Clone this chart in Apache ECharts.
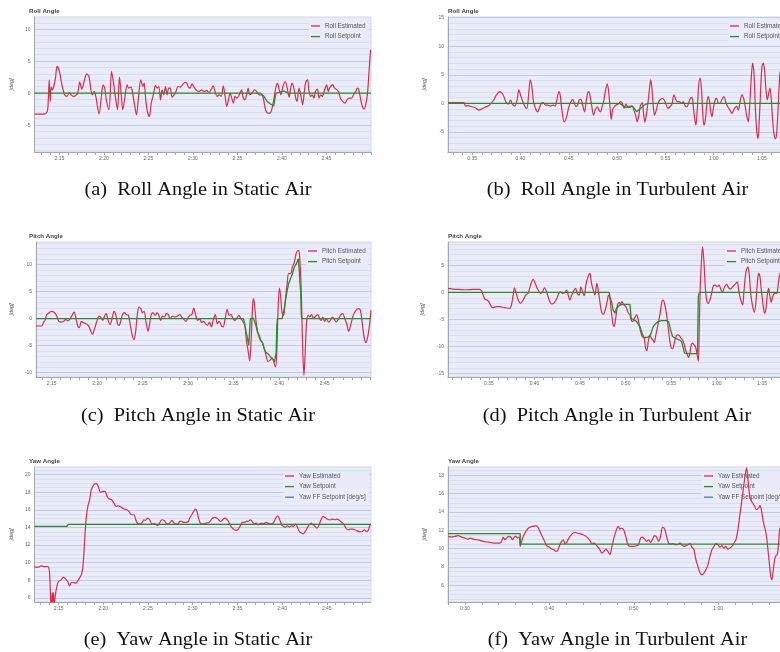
<!DOCTYPE html>
<html>
<head>
<meta charset="utf-8">
<script src="https://cdn.jsdelivr.net/npm/echarts@6/dist/echarts.min.js"></script>
<style>
html, body { margin: 0; padding: 0; background: #fff; }
#page { position: relative; width: 780px; height: 652px; overflow: hidden; background: #fff; }
.panel { position: absolute; height: 225px; }
.left { left: 0; width: 396px; }
.right { left: 400px; width: 435px; }
</style>
</head>
<body>
<div id="page">
  <div class="panel left" id="pa" style="top:0"></div>
  <div class="panel right" id="pb" style="top:0"></div>
  <div class="panel left" id="pc" style="top:225px"></div>
  <div class="panel right" id="pd" style="top:225px"></div>
  <div class="panel left" id="pe" style="top:450px"></div>
  <div class="panel right" id="pf" style="top:450px"></div>
</div>
<script>
// ---- (a) roll, static air (time in seconds) ----
var rollStaticTime = [132.23,133.27,133.64,133.75,133.86,133.97,134.08,134.19,134.37,134.56,
  134.74,135.0,135.29,135.59,135.85,136.11,136.29,136.59,136.84,137.06,
  137.29,137.51,137.73,138.06,138.32,138.54,138.72,138.91,139.09,139.46,
  139.72,139.90,140.09,140.27,140.57,140.86,141.08,141.31,141.53,141.75,
  141.93,142.12,142.37,142.60,142.78,143.04,143.26,143.41,143.66,143.89,
  144.14,144.37,144.51,144.70,144.88,145.10,145.32,145.55,145.80,145.99,
  146.17,146.36,146.54,146.73,146.91,147.09,147.28,147.46,147.65,147.87,
  148.09,148.31,148.57,148.83,149.12,149.31,149.49,149.67,149.90,150.12,
  150.41,150.71,150.97,151.26,151.52,151.81,152.03,152.26,152.48,152.70,
  152.92,153.18,153.40,153.62,153.80,153.99,154.17,154.36,154.54,154.73,
  154.95,155.21,155.47,155.61,155.83,156.05,156.20,156.39,156.68,156.90,
  157.16,157.42,157.68,157.90,158.16,158.41,158.67,158.89,159.08,159.26,
  159.48,159.70,159.89,160.11,160.37,160.59,160.81,160.96,161.14,161.36,
  161.55,161.69,161.92,162.14,162.32,162.51,162.69,162.88,163.02,163.21,
  163.39,163.58,163.76,163.98,164.17,164.35,164.53,164.79,165.01,165.20,
  165.34,165.53,165.71,165.90,166.08,166.34,166.56,166.82,167.08,167.30,
  167.56,167.82,168.04,168.29,168.48,168.63,168.85,169.03,169.22,169.40,
  169.59,169.77,169.95];
var rollStaticEst = [-3.28,-3.28,-2.86,-1.04,2.08,-1.30,0.94,0.52,1.04,2.34,
  4.17,3.39,1.30,-0.26,-0.52,0.10,-0.26,-0.52,-0.36,0,
  1.77,0.63,1.56,3.02,2.60,0.52,-0.26,0.26,-0.52,-3.23,
  -0.52,1.30,0.78,-1.04,-2.60,3.39,1.56,-0.78,-2.60,2.50,
  0,-2.60,-0.52,1.30,0.78,0.94,-0.26,-1.56,-3.39,-0.52,
  2.08,1.04,1.56,-1.04,-2.86,-3.65,-1.56,-0.26,1.20,0.78,
  1.04,-1.04,0.52,-0.26,1.04,-0.26,0.78,0.78,-0.63,-0.26,
  0.26,1.04,0.94,1.30,1.67,1.56,0.94,0.78,1.46,0.94,
  0.42,0.26,0.52,0.26,0.42,0.10,0.52,1.15,0.26,-0.52,
  -0.26,-0.52,1.15,-0.52,-2.08,-1.04,0,-0.78,-1.56,-0.52,
  -0.78,-0.26,0.52,-0.52,-1.04,-0.16,0.78,-0.26,0.10,0.52,
  0.26,-0.26,-0.26,-0.78,-2.60,-3.13,-3.13,-2.34,-1.04,0.52,
  1.56,0.52,-0.26,1.04,1.82,0.78,-0.63,0.63,1.56,0.63,
  -0.78,-1.30,0.78,-0.52,-1.82,0.26,1.82,2.08,0.52,-0.52,
  -0.26,-0.78,0.26,0.63,-0.78,-0.26,-0.52,0.52,1.30,0.26,
  0.78,1.15,1.30,0.78,0.63,0.26,-0.78,-1.30,-1.56,-1.04,
  -0.78,-0.78,-0.26,0.26,0.78,0.52,-1.04,-2.08,-2.50,-1.82,
  -0.26,3.13,6.77];
var rollStaticSpTime = [132.2,157.6,157.97,158.34,158.71,159.08,159.19,159.34,160.2,160.4,160.7,170.0];
var rollStaticSp = [0,0,-0.5,-1.3,-1.7,-2.0,-1.0,0,0.3,0.4,0,0];

// ---- (b) roll, turbulent air ----
var rollTurbTime = [32.51,34.14,34.31,34.59,34.93,35.28,35.52,35.69,35.97,36.31,
  36.66,36.90,37.17,37.52,37.87,38.21,38.49,38.73,38.97,39.18,
  39.42,39.66,39.83,40.01,40.18,40.35,40.52,40.66,40.83,41.01,
  41.18,41.35,41.56,41.77,41.94,42.15,42.35,42.59,42.87,43.11,
  43.39,43.60,43.77,43.98,44.11,44.29,44.53,44.77,45.01,45.22,
  45.39,45.53,45.74,45.91,46.08,46.25,46.43,46.63,46.77,46.94,
  47.08,47.22,47.39,47.57,47.74,47.95,48.12,48.29,48.46,48.64,
  48.81,48.98,49.15,49.29,49.40,49.53,49.71,49.88,50.12,50.36,
  50.54,50.74,50.91,51.12,51.33,51.57,51.74,51.92,52.09,52.26,
  52.40,52.61,52.74,52.88,53.05,53.23,53.37,53.47,53.61,53.75,
  53.88,54.06,54.23,54.44,54.68,54.88,55.06,55.26,55.47,55.68,
  55.89,56.09,56.27,56.44,56.65,56.85,57.06,57.23,57.40,57.58,
  57.75,57.89,58.03,58.16,58.30,58.44,58.58,58.72,58.85,58.99,
  59.13,59.27,59.41,59.55,59.68,59.82,59.99,60.17,60.30,60.48,
  60.65,60.86,61.06,61.24,61.41,61.69,61.89,62.07,62.24,62.38,
  62.55,62.76,62.93,63.10,63.24,63.41,63.58,63.76,63.90,64.03,
  64.17,64.31,64.45,64.59,64.72,64.86,65.00,65.14,65.28,65.41,
  65.55,65.69,65.83,65.97,66.10,66.24,66.38,66.52,66.66,66.79,
  66.93,67.21,67.55];
var rollTurbEst = [0.12,0.12,-0.47,-0.41,-0.59,-0.71,-1.0,-1.18,-1.0,-0.71,
  -0.47,-0.12,0.41,1.47,2.06,1.47,0.29,-0.12,0.59,-0.18,
  -0.47,0.71,2.35,1.47,0.59,-0.12,-0.71,-0.88,1.18,4.12,
  2.94,0.29,-0.88,-1.47,-0.88,0,0.12,-0.29,-0.29,-0.47,
  -0.29,-0.47,0.59,2.06,1.47,-1.18,-3.24,-2.35,-0.59,0.29,
  0.71,0.29,-0.59,-0.29,0.59,0.71,-0.29,-1.47,0,1.76,
  2.06,1.18,-0.59,-2.06,-1.18,-0.59,-1.18,-1.47,-0.47,0.59,
  2.35,3.41,1.76,-1.18,-2.82,-1.18,-0.59,-0.29,-0.12,0.29,
  0,-0.88,-0.12,-0.59,-0.47,-0.47,-1.18,-2.06,-3.24,-2.06,
  -0.47,0.12,-1.76,-3.29,-1.76,0.59,2.82,4.12,2.65,-0.59,
  -2.06,-1.18,0,0.59,0.88,0.59,-0.12,-0.88,-0.59,-0.12,
  1.47,0.59,0.29,0.29,0,0.29,-0.47,-0.59,0,0.88,
  1.06,-0.59,-2.65,-3.82,-1.18,2.94,4.41,2.94,-1.18,-3.82,
  -2.94,-0.59,1.18,0.59,-1.18,-2.35,-0.59,0.71,0.88,0,
  0,0.71,1.18,0.29,-0.47,-1.18,-1.76,-1.18,-0.71,-0.47,
  -1.18,0.59,1.47,0.88,-0.29,-2.06,-3.24,0.59,4.71,7.06,
  5.29,-0.59,-4.71,-6.18,-2.94,2.35,6.47,7.06,5.59,2.35,
  0.59,1.76,2.65,0.59,-2.94,-5.29,-6.18,-5.29,-1.18,3.53,
  5.88,6.47,1.76];
var rollTurbSpTime = [32.5,50.29,50.64,50.98,51.33,51.57,51.78,52.02,52.19,52.43,52.71,52.99,53.23,67.9];
var rollTurbSp = [0,0,-0.47,-0.7,-0.7,-0.47,-0.88,-1.47,-1.18,-0.88,-0.47,-0.12,0,0];

// ---- (c) pitch, static air ----
var pitchStaticTime = [133.27,133.92,134.10,134.28,134.46,134.74,134.99,135.24,135.53,135.79,
  136.07,136.33,136.54,136.79,137.04,137.26,137.47,137.69,137.87,138.05,
  138.27,138.48,138.77,139.02,139.23,139.49,139.70,139.95,140.21,140.38,
  140.64,140.82,141.00,141.21,141.43,141.64,141.86,142.07,142.25,142.43,
  142.61,142.79,143.01,143.22,143.44,143.65,143.87,144.05,144.23,144.41,
  144.59,144.80,144.98,145.16,145.38,145.59,145.77,145.95,146.13,146.38,
  146.60,146.78,146.99,147.17,147.39,147.60,147.82,148.03,148.28,148.54,
  148.83,149.08,149.29,149.54,149.76,149.97,150.19,150.41,150.62,150.84,
  151.05,151.27,151.48,151.70,151.91,152.13,152.35,152.56,152.78,152.99,
  153.21,153.42,153.64,153.85,154.07,154.29,154.50,154.72,154.93,155.15,
  155.36,155.58,155.80,156.01,156.23,156.41,156.59,156.77,156.95,157.09,
  157.20,157.34,157.52,157.74,157.95,158.17,158.38,158.60,158.78,158.99,
  159.25,159.50,159.61,159.75,159.89,160.04,160.18,160.32,160.50,160.68,
  160.89,161.04,161.25,161.47,161.68,161.90,162.12,162.26,162.44,162.58,
  162.73,162.87,163.02,163.20,163.38,163.56,163.81,164.02,164.27,164.45,
  164.63,164.81,164.99,165.20,165.42,165.64,165.85,166.07,166.28,166.50,
  166.79,167.00,167.22,167.43,167.65,167.86,168.15,168.44,168.73,168.94,
  169.12,169.37,169.55,169.77,169.95,170.09];
var pitchStaticEst = [-1.36,-1.36,-0.74,-0.31,0.74,1.11,1.36,1.23,0.62,-0.49,
  -0.62,-0.49,-0.12,-0.43,0,0.62,1.23,0,-1.36,-1.67,
  -0.49,-0.74,-0.93,-1.23,-1.98,-2.90,-1.98,-0.62,0.49,0.31,
  -0.31,0.49,0.93,-0.31,-1.11,0,1.36,0.62,-0.93,-1.23,
  -0.31,0.74,1.11,0.74,0.62,-1.23,-3.09,-3.89,-2.47,0.62,
  2.16,1.85,1.11,1.36,-0.62,-2.35,-0.93,0.74,1.11,0.62,
  1.11,0.62,-0.31,0.49,0.31,0.93,0.74,0,0.49,0.31,
  0.49,0.74,0.31,-0.12,-0.49,0.12,0.62,0.74,1.98,0.62,
  -0.31,0,-0.74,-0.49,-0.93,-1.23,-0.62,-1.54,-0.12,0.74,
  -0.93,-0.49,-1.23,-1.54,0,1.73,0.62,0.74,0,-0.31,
  0.12,0.62,0,-0.49,-1.23,-4.01,-5.86,-7.84,-3.09,2.47,
  3.70,1.85,-1.23,-3.09,-4.01,-4.44,-5.56,-7.10,-7.90,-7.72,
  -7.28,-8.52,-8.95,-6.17,1.85,5.68,4.01,1.11,0.62,3.40,
  6.48,8.33,8.33,9.57,10.49,12.22,12.65,11.42,4.94,-4.94,
  -10.49,-6.17,-0.62,0.62,0.31,0.74,0,0.49,0.74,0,
  -0.31,0.31,-0.49,0,-0.62,-0.31,0.31,-0.12,-0.62,-0.12,
  0.74,0.93,0,-0.93,-2.35,-1.23,0.62,1.54,1.85,1.54,
  -0.62,-3.70,-4.44,-3.09,-0.93,1.54];
var pitchStaticSpTime = [133.3,156.08,156.23,156.37,156.51,156.66,156.77,156.84,157.02,157.17,
  157.31,157.45,157.63,157.81,157.99,158.17,158.35,158.53,158.71,158.88,
  159.07,159.32,159.50,159.61,159.68,159.75,159.82,160.32,160.50,160.68,
  160.86,161.04,161.25,161.47,161.68,161.90,162.12,162.26,162.37,162.44,
  162.51,170.1];
var pitchStaticSp = [0,0,-0.93,-2.47,-3.40,-4.94,-4.94,0,0.12,0.12,
  0,-1.23,-2.47,-3.09,-4.01,-4.44,-5.56,-6.17,-6.48,-6.67,
  -7.10,-7.53,-8.02,-8.15,-6.17,-1.23,0,0,1.23,3.09,
  4.94,6.48,7.41,8.33,9.57,10.19,11.11,11.11,4.94,0.62,
  0,0];

// ---- (d) pitch, turbulent air ----
var pitchTurbTime = [30.51,31.06,31.79,32.53,33.26,33.99,34.18,34.36,34.54,34.80,
  35.02,35.27,35.46,35.82,36.19,36.74,37.29,37.47,37.66,37.80,
  37.95,38.21,38.46,38.75,39.05,39.30,39.56,39.85,40.15,40.40,
  40.66,40.88,41.10,41.32,41.61,41.87,42.12,42.42,42.67,42.86,
  43.08,43.30,43.52,43.70,43.88,44.07,44.25,44.51,44.69,44.91,
  45.09,45.27,45.46,45.64,45.82,46.08,46.26,46.45,46.63,46.85,
  47.00,47.18,47.36,47.55,47.77,47.99,48.13,48.28,48.46,48.64,
  48.75,48.94,49.12,49.30,49.45,49.60,49.82,50.04,50.26,50.48,
  50.62,50.77,50.99,51.21,51.36,51.50,51.65,51.83,52.05,52.20,
  52.34,52.49,52.67,52.82,53.00,53.15,53.33,53.55,53.77,53.99,
  54.14,54.32,54.51,54.69,54.87,55.02,55.16,55.31,55.46,55.68,
  55.90,56.08,56.26,56.45,56.59,56.78,56.92,57.07,57.22,57.36,
  57.51,57.66,57.80,57.99,58.10,58.21,58.35,58.46,58.61,58.79,
  58.94,59.08,59.27,59.45,59.63,59.85,60.07,60.29,60.48,60.66,
  60.88,61.10,61.32,61.54,61.76,62.01,62.27,62.42,62.56,62.71,
  62.86,63.00,63.22,63.44,63.59,63.74,63.96,64.14,64.32,64.47,
  64.62,64.76,64.95,65.13,65.27,65.42,65.57,65.71,65.86,66.01,
  66.15,66.37,66.59,66.78,66.96,67.25,67.69];
var pitchTurbEst = [0.74,0.62,0.55,0.49,0.55,0.55,0.31,-0.49,-1.23,-1.42,
  -1.85,-2.65,-2.83,-2.65,-2.65,-2.83,-2.95,-2.34,-0.49,0.86,
  0.12,-1.42,-2.03,-1.42,-0.49,-0.18,1.35,2.40,1.35,0.43,
  -0.18,0.12,0.86,0.12,-1.42,-2.15,-2.03,-1.23,-0.18,0.12,
  -0.18,-0.06,0.43,-0.49,-1.42,-0.62,0.12,0.74,-0.18,-0.49,
  1.05,0.12,-0.62,1.35,2.58,3.51,1.66,0.43,-0.49,1.66,
  0.43,-1.72,-3.57,-4.06,-3.26,-1.60,-0.49,-1.11,-3.88,-6.03,
  -6.34,-4.49,-2.34,-1.85,-2.22,-1.72,-2.34,-2.65,-3.69,-4.18,
  -5.11,-5.42,-4.80,-4.18,-4.80,-6.03,-7.26,-8.18,-8.49,-10.34,
  -10.83,-9.11,-7.88,-8.49,-8.80,-9.29,-7.88,-6.03,-4.18,-1.72,
  -1.42,-2.34,-4.18,-6.65,-9.11,-10.34,-10.46,-9.72,-8.62,-7.88,
  -8.0,-8.49,-8.80,-9.72,-10.65,-11.57,-12.06,-11.26,-9.72,-9.42,
  -9.72,-10.03,-10.95,-12.80,-6.03,1.35,6.28,8.43,5.66,0.12,
  -1.72,-2.03,-1.42,-0.18,1.17,1.35,1.05,1.35,0.43,0.12,
  1.05,1.48,0.86,0.62,1.05,1.48,1.97,0.43,-0.80,-1.72,
  -2.34,0.12,3.82,4.74,3.20,-0.18,-2.65,-3.69,-1.72,1.66,
  3.51,2.89,-0.18,-2.65,-3.88,-2.95,-0.49,0.74,-0.80,-1.85,
  -0.80,-0.18,-0.18,1.66,3.51,3.82,1.97];
var pitchTurbSpTime = [30.5,48.21,48.28,48.46,48.64,48.83,49.01,49.19,49.38,49.74,
  50.48,50.59,50.62,50.84,51.21,51.58,51.83,52.01,52.31,52.49,
  52.67,52.86,53.04,53.33,53.59,53.96,54.51,54.73,54.95,55.16,
  55.31,55.60,55.90,56.15,56.34,56.48,57.07,57.62,57.88,57.91,
  57.99,58.10,68.06];
var pitchTurbSp = [0,0,-0.8,-1.72,-3.26,-3.88,-2.95,-2.65,-2.34,-2.22,
  -2.22,-2.22,-4.92,-4.98,-5.42,-6.34,-7.57,-8.37,-8.37,-8.37,
  -8.18,-7.26,-6.34,-5.73,-5.42,-5.23,-5.23,-5.42,-6.95,-8.18,
  -8.49,-8.62,-8.80,-9.11,-10.34,-11.26,-11.38,-11.38,-11.38,-10.34,
  -0.8,0,0];

// ---- (e) yaw, static air ----
var yawStaticTime = [132.30,132.78,133.03,133.33,133.70,133.88,133.99,134.07,134.14,134.21,
  134.29,134.36,134.43,134.51,134.62,134.80,134.98,135.28,135.54,135.79,
  136.01,136.23,136.45,136.67,136.89,137.11,137.33,137.55,137.74,137.85,
  137.96,138.11,138.29,138.47,138.66,138.84,139.02,139.24,139.46,139.68,
  139.94,140.20,140.42,140.67,140.93,141.23,141.45,141.67,141.89,142.14,
  142.40,142.62,142.88,143.13,143.43,143.61,143.80,143.98,144.16,144.35,
  144.53,144.71,144.97,145.19,145.41,145.63,145.82,146.07,146.29,146.55,
  146.81,147.03,147.28,147.47,147.69,147.91,148.13,148.35,148.57,148.79,
  149.01,149.31,149.53,149.67,149.89,150.11,150.30,150.48,150.66,150.85,
  151.07,151.29,151.51,151.80,152.02,152.24,152.46,152.68,152.90,153.13,
  153.35,153.57,153.79,154.01,154.23,154.45,154.67,154.89,155.11,155.33,
  155.55,155.77,155.99,156.21,156.43,156.65,156.87,157.09,157.31,157.53,
  157.75,157.97,158.19,158.41,158.63,158.85,159.07,159.29,159.51,159.73,
  159.95,160.17,160.39,160.61,160.83,161.05,161.27,161.49,161.71,161.93,
  162.15,162.37,162.59,162.81,163.03,163.26,163.48,163.70,163.92,164.14,
  164.36,164.58,164.80,165.02,165.24,165.46,165.68,165.90,166.12,166.34,
  166.56,166.78,167.00,167.22,167.44,167.66,167.88,168.10,168.32,168.54,
  168.76,168.98,169.20,169.42,169.64,169.78,169.93];
var yawStaticEst = [9.50,9.50,9.65,9.57,9.57,9.50,8.82,6.92,5.03,5.60,
  6.62,5.03,6.62,5.03,6.17,7.30,7.87,8.06,8.36,8.14,
  7.87,7.38,7.76,7.76,7.68,7.87,8.25,8.63,9.76,11.47,
  13.36,15.25,16.46,17.14,18.28,18.65,18.92,18.96,18.58,17.97,
  18.09,18.09,17.52,17.22,17.14,16.69,16.38,16.46,16.38,16.19,
  16.08,16.01,15.82,15.44,15.44,14.95,14.49,14.42,14.42,14.57,
  14.87,14.79,15.06,14.87,14.42,14.42,14.42,14.19,14.49,14.87,
  14.79,14.49,14.42,14.57,14.79,14.49,14.42,14.42,14.68,14.68,
  14.57,14.57,14.68,15.06,15.44,15.82,16.08,15.82,15.06,14.49,
  14.42,14.42,14.49,14.57,14.79,15.06,15.14,15.06,14.87,14.68,
  14.87,15.06,14.95,14.68,14.19,13.92,13.74,13.66,13.81,14.19,
  14.57,14.57,14.68,14.68,14.87,14.68,14.42,14.49,14.30,14.42,
  14.49,14.42,14.57,14.49,14.42,14.42,14.57,15.06,15.32,14.87,
  14.30,14.11,14.04,14.19,14.04,14.19,14.11,14.42,14.04,13.55,
  13.36,13.28,13.55,13.92,14.30,14.49,14.30,14.11,13.92,14.30,
  14.87,15.25,15.14,14.95,14.87,14.87,14.95,14.87,14.95,14.87,
  14.68,14.49,14.19,13.81,13.74,13.81,13.81,13.74,13.66,13.55,
  13.51,13.55,13.74,13.55,13.66,14.11,14.42];
var yawStaticSpTime = [132.3,135.9,136.09,169.94];
var yawStaticSp = [14.11,14.11,14.34,14.34];

// ---- (f) yaw, turbulent air ----
var yawTurbTime = [28.03,28.42,28.82,29.21,29.61,30.0,30.39,30.67,30.99,31.38,
  31.78,32.17,32.57,32.96,33.36,33.75,34.15,34.34,34.54,34.74,
  34.93,35.21,35.45,35.65,35.84,36.04,36.24,36.44,36.55,36.67,
  36.83,37.07,37.30,37.54,37.78,38.09,38.41,38.65,38.88,39.12,
  39.36,39.67,39.99,40.26,40.54,40.78,40.98,41.17,41.45,41.65,
  41.84,42.04,42.24,42.44,42.63,42.83,43.07,43.30,43.62,43.94,
  44.25,44.57,44.80,45.04,45.28,45.52,45.75,45.99,46.23,46.46,
  46.70,46.94,47.17,47.41,47.65,47.88,48.16,48.36,48.59,48.83,
  49.07,49.31,49.54,49.94,50.33,50.57,50.81,51.04,51.28,51.52,
  51.75,51.99,52.23,52.46,52.70,52.94,53.17,53.41,53.65,53.88,
  54.12,54.36,54.67,54.91,55.15,55.46,55.70,55.94,56.17,56.41,
  56.65,56.88,57.12,57.36,57.60,57.83,58.07,58.31,58.54,58.78,
  59.02,59.25,59.49,59.73,59.96,60.20,60.44,60.67,60.91,61.15,
  61.39,61.62,61.86,62.10,62.33,62.57,62.81,63.04,63.20,63.36,
  63.52,63.68,63.83,64.07,64.31,64.54,64.78,64.94,65.10,65.33,
  65.57,65.73,65.89,66.05,66.20,66.36,66.52,66.68,66.83,66.99,
  67.15,67.31,67.70,68.29];
var yawTurbEst = [11.35,11.27,11.35,11.42,11.27,11.16,11.05,11.16,11.05,10.98,
  10.91,10.80,10.73,10.69,10.62,10.62,10.62,10.80,11.27,10.98,
  11.16,11.35,11.27,10.98,11.27,11.35,11.16,11.27,10.25,10.62,
  11.16,11.64,12.0,12.25,12.36,12.44,12.51,12.36,11.89,11.42,
  10.98,10.33,10.18,9.96,9.89,9.71,9.78,10.25,10.80,10.98,
  10.55,10.69,11.05,11.35,11.53,11.71,11.78,11.71,11.64,11.53,
  11.42,11.16,10.91,10.55,10.62,10.44,10.18,9.89,9.53,9.71,
  9.96,9.71,9.35,10.25,11.16,11.89,12.44,12.15,12.25,12.0,
  11.27,10.44,10.25,10.25,10.33,10.44,11.16,11.27,11.05,10.80,
  10.98,10.69,11.05,11.42,11.27,10.80,11.35,12.33,12.15,11.35,
  10.62,10.51,10.55,10.44,10.44,10.62,10.44,10.25,10.33,10.44,
  10.55,10.18,9.89,8.80,8.07,7.42,7.16,7.35,7.71,8.25,
  9.16,9.89,10.25,10.55,10.44,10.18,10.33,10.07,10.25,9.96,
  10.07,10.25,10.62,10.98,12.07,13.71,15.35,16.98,18.07,18.80,
  17.53,16.07,15.42,14.98,14.62,14.25,14.44,14.69,14.25,12.98,
  12.07,11.27,9.89,8.44,7.16,6.62,7.71,8.80,9.24,9.35,
  10.62,12.25,12.80,12.07];
var yawTurbSpTime = [28.0,36.55,36.56,68.5];
var yawTurbSp = [11.64,11.64,10.51,10.51];
var yawTurbFFTime = [];
var yawTurbFF = [];

// ---- axis labels ----
var staticXLabels = [135, 140, 145, 150, 155, 160, 165];
var turbXLabels = [35, 40, 45, 50, 55, 60, 65];
var yawTurbXLabels = [30, 40, 50, 60];
var rollStaticYLabels = [-5, 0, 5, 10];
var rollTurbYLabels = [-5, 0, 5, 10, 15];
var pitchStaticYLabels = [-10, -5, 0, 5, 10];
var pitchTurbYLabels = [-15, -10, -5, 0, 5];
var yawStaticYLabels = [6, 8, 10, 12, 14, 16, 18, 20];
var yawTurbYLabels = [6, 8, 10, 12, 14, 16, 18];

var RED = '#da2c4b', GREEN = '#2b8a2b', BLUE = '#3f7cc4';
var BG = '#e9ecf8';
var SANS = 'Liberation Sans';

function zip(t, v) {
  return t.map(function (x, i) { return [x, v[i]]; });
}
function steps(lo, hi, step) {
  var out = [];
  for (var v = lo; v <= hi + 1e-9; v += step) out.push(Math.round(v * 100) / 100);
  return out;
}
function mmss(v) {
  var m = Math.floor(v / 60 + 1e-6);
  var s = Math.round(v - m * 60);
  return m + ':' + (s < 10 ? '0' : '') + s;
}

function panel(id, o) {
  var chart = echarts.init(document.getElementById(id), null, { renderer: 'canvas' });
  var minorY = steps(o.yMinorFrom, o.yMax, o.yMinor).filter(function (v) {
    return o.yLabels.indexOf(v) < 0;
  });
  var series = [
    { name: o.prefix + ' Estimated', type: 'line', data: zip(o.estT, o.est), smooth: 0.3,
      symbol: 'none', lineStyle: { color: RED, width: 1.2 }, itemStyle: { color: RED } },
    { name: o.prefix + ' Setpoint', type: 'line', data: zip(o.spT, o.sp),
      symbol: 'none', lineStyle: { color: GREEN, width: 1.3 }, itemStyle: { color: GREEN } }
  ];
  if (o.ff) {
    series.push({ name: 'Yaw FF Setpoint [deg/s]', type: 'line', data: o.ff, symbol: 'none',
      lineStyle: { color: BLUE, width: 1.2 }, itemStyle: { color: BLUE } });
  }
  chart.setOption({
    animation: false,
    title: {
      text: o.title, left: o.left, top: 8, padding: 0,
      textStyle: { fontSize: 6.2, fontWeight: 'bold', color: '#444', fontFamily: SANS }
    },
    graphic: [{
      type: 'text', x: o.capX, y: o.capY, scaleX: 1.1,
      style: { text: o.caption, font: '18.5px "Liberation Serif"', fill: '#111',
        align: 'center', verticalAlign: 'middle' }
    }],
    legend: {
      orient: 'vertical', left: o.legendLeft, top: 21, z: 1,
      backgroundColor: BG, padding: [2, 3, 2, 2],
      icon: 'rect', itemWidth: 9, itemHeight: 1.3, itemGap: 4.6,
      textStyle: { fontSize: 6.3, color: '#555', fontFamily: SANS },
      data: series.map(function (s) { return s.name; })
    },
    grid: {
      left: o.left, top: 17, width: 342, height: 135, show: true,
      backgroundColor: BG, borderColor: '#d3d7e6', borderWidth: 1
    },
    xAxis: {
      type: 'value', min: o.xMin, max: o.xMax,
      axisLine: { onZero: false, lineStyle: { color: '#a4a7b0', width: 1 } },
      axisTick: { customValues: o.xTicks, length: 3, lineStyle: { color: '#a4a7b0' } },
      axisLabel: { customValues: o.xLabels, formatter: mmss, fontSize: 5, color: '#666',
        fontFamily: SANS, margin: 4 },
      splitLine: { show: false }
    },
    yAxis: [{
      type: 'value', min: o.yMin, max: o.yMax, position: 'left',
      name: '[deg]', nameLocation: 'middle', nameGap: 11,
      nameTextStyle: { fontSize: 5.5, fontStyle: 'italic', color: '#555', fontFamily: SANS },
      axisLine: { show: true, onZero: false, lineStyle: { color: '#a4a7b0' } },
      axisTick: { show: false, customValues: o.yLabels },
      axisLabel: { customValues: o.yLabels, fontSize: 5, color: '#666', fontFamily: SANS, margin: 4 },
      splitLine: { show: true, lineStyle: { color: '#c4cae2', width: 1 } }
    }, {
      type: 'value', min: o.yMin, max: o.yMax, position: 'left',
      axisLine: { show: false, onZero: false },
      axisTick: { show: false, customValues: minorY },
      axisLabel: { show: false },
      splitLine: { show: true, lineStyle: { color: '#dadff0', width: 1 } }
    }],
    series: series
  });
}

panel('pa', {
  title: 'Roll Angle', prefix: 'Roll', caption: '(a)  Roll Angle in Static Air',
  left: 29, capX: 198, capY: 190.5, legendLeft: 309,
  xMin: 132.2, xMax: 170.0, xTicks: steps(133, 170, 1), xLabels: staticXLabels,
  yMin: -9.2, yMax: 11.9, yLabels: rollStaticYLabels, yMinor: 1, yMinorFrom: -9,
  estT: rollStaticTime, est: rollStaticEst, spT: rollStaticSpTime, sp: rollStaticSp
});
panel('pb', {
  title: 'Roll Angle', prefix: 'Roll', caption: '(b)  Roll Angle in Turbulent Air',
  left: 48, capX: 217.5, capY: 190.5, legendLeft: 328,
  xMin: 32.5, xMax: 67.9, xTicks: steps(33, 67, 1), xLabels: turbXLabels,
  yMin: -8.5, yMax: 15.1, yLabels: rollTurbYLabels, yMinor: 1, yMinorFrom: -8,
  estT: rollTurbTime, est: rollTurbEst, spT: rollTurbSpTime, sp: rollTurbSp
});
panel('pc', {
  title: 'Pitch Angle', prefix: 'Pitch', caption: '(c)  Pitch Angle in Static Air',
  left: 29, capX: 198, capY: 190.8, legendLeft: 306,
  xMin: 133.3, xMax: 170.1, xTicks: steps(134, 170, 1), xLabels: staticXLabels,
  yMin: -10.8, yMax: 14.2, yLabels: pitchStaticYLabels, yMinor: 1, yMinorFrom: -10,
  estT: pitchStaticTime, est: pitchStaticEst, spT: pitchStaticSpTime, sp: pitchStaticSp
});
panel('pd', {
  title: 'Pitch Angle', prefix: 'Pitch', caption: '(d)  Pitch Angle in Turbulent Air',
  left: 48, capX: 217, capY: 190.8, legendLeft: 325,
  xMin: 30.5, xMax: 68.06, xTicks: steps(31, 68, 1), xLabels: turbXLabels,
  yMin: -15.7, yMax: 9.35, yLabels: pitchTurbYLabels, yMinor: 1, yMinorFrom: -15,
  estT: pitchTurbTime, est: pitchTurbEst, spT: pitchTurbSpTime, sp: pitchTurbSp
});
panel('pe', {
  title: 'Yaw Angle', prefix: 'Yaw', caption: '(e)  Yaw Angle in Static Air',
  left: 29, capX: 198, capY: 190.5, legendLeft: 283,
  xMin: 132.3, xMax: 169.95, xTicks: steps(133, 169, 1), xLabels: staticXLabels,
  yMin: 5.55, yMax: 20.85, yLabels: yawStaticYLabels, yMinor: 0.5, yMinorFrom: 6,
  estT: yawStaticTime, est: yawStaticEst, spT: yawStaticSpTime, sp: yawStaticSp, ff: []
});
panel('pf', {
  title: 'Yaw Angle', prefix: 'Yaw', caption: '(f)  Yaw Angle in Turbulent Air',
  left: 48, capX: 217.5, capY: 190.5, legendLeft: 302,
  xMin: 28.0, xMax: 68.5, xTicks: steps(28, 68, 2), xLabels: yawTurbXLabels,
  yMin: 4.2, yMax: 18.9, yLabels: yawTurbYLabels, yMinor: 0.5, yMinorFrom: 4.5,
  estT: yawTurbTime, est: yawTurbEst, spT: yawTurbSpTime, sp: yawTurbSp, ff: zip(yawTurbFFTime, yawTurbFF)
});
</script>
</body>
</html>
